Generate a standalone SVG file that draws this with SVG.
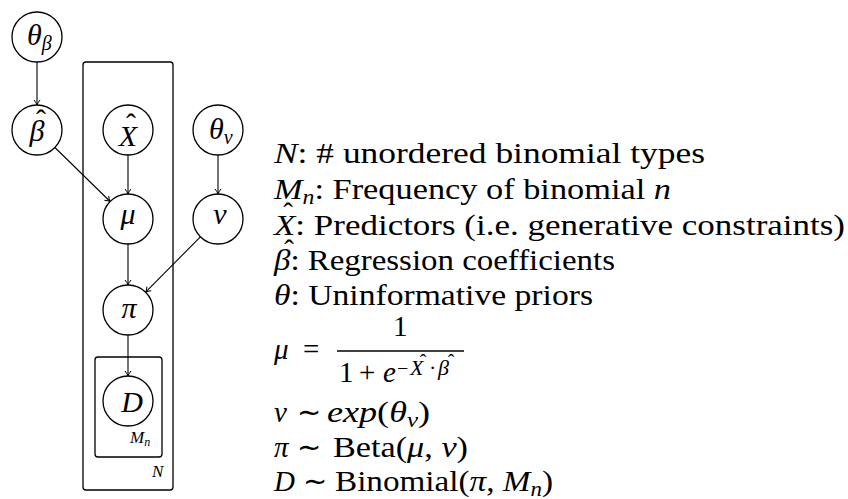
<svg xmlns="http://www.w3.org/2000/svg" width="848" height="499" viewBox="0 0 848 499">
<style>
.c{fill:#fff;stroke:#000;stroke-width:1.3}
.plate{fill:none;stroke:#000;stroke-width:1.3}
.e{stroke:#000;stroke-width:1.1;fill:none;marker-end:url(#arr)}
</style>
<defs>
<marker id="arr" viewBox="-6 -4 7 8" refX="0" refY="0" markerWidth="7" markerHeight="8" markerUnits="userSpaceOnUse" orient="auto">
<path d="M-5,-3 Q-2,-0.6 0,0 Q-2,0.6 -5,3" fill="none" stroke="#000" stroke-width="1"/>
</marker>
</defs>
<rect width="848" height="499" fill="#fff"/>
<g id="plates" font-family="'Liberation Serif', serif">
<rect id="plate-N" class="plate" x="83" y="62" width="90" height="428" rx="3"/>
<text x="152" y="477" font-family="'Liberation Serif', serif" font-size="17" font-style="italic">N</text>
<rect id="plate-Mn" class="plate" x="95" y="357" width="67" height="100" rx="3"/>
<text x="130" y="443" font-family="'Liberation Serif', serif" font-size="17" font-style="italic">M<tspan font-size="12" dy="3">n</tspan></text>
</g>
<g id="connectors">
<line class="e" x1="37" y1="62" x2="37" y2="105"/>
<line class="e" x1="54.9" y1="147.5" x2="110.1" y2="201.5"/>
<line class="e" x1="128" y1="155" x2="128" y2="194"/>
<line class="e" x1="218" y1="155" x2="218" y2="194"/>
<line class="e" x1="200.4" y1="236.8" x2="145.6" y2="292.2"/>
<line class="e" x1="128" y1="244" x2="128" y2="285"/>
<line class="e" x1="128" y1="335" x2="128" y2="376"/>
</g>
<g id="theta_beta">
<circle class="c" cx="37" cy="37" r="25"/>
<text x="27" y="45" font-family="'Liberation Serif', serif" font-size="30" font-style="italic">θ<tspan font-size="20" dy="5">β</tspan></text>
</g>
<g id="beta_hat">
<circle class="c" cx="37" cy="130" r="25"/>
<text x="37" y="141" text-anchor="middle" font-family="'Liberation Serif', serif" font-size="30" font-style="italic">β</text>
<text x="41" y="130" text-anchor="middle" font-family="'Liberation Serif', serif" font-size="30">ˆ</text>
</g>
<g id="X_hat">
<circle class="c" cx="128" cy="130" r="25"/>
<text x="128" y="146" text-anchor="middle" font-family="'Liberation Serif', serif" font-size="30" font-style="italic">X</text>
<text x="131" y="134" text-anchor="middle" font-family="'Liberation Serif', serif" font-size="30">ˆ</text>
</g>
<g id="theta_nu">
<circle class="c" cx="218" cy="130" r="25"/>
<text x="209" y="139" font-family="'Liberation Serif', serif" font-size="30" font-style="italic">θ<tspan font-size="20" dy="5">ν</tspan></text>
</g>
<g id="mu">
<circle class="c" cx="128" cy="219" r="25"/>
<text x="128" y="224" text-anchor="middle" font-family="'Liberation Serif', serif" font-size="30" font-style="italic">μ</text>
</g>
<g id="nu">
<circle class="c" cx="218" cy="219" r="25"/>
<text x="220" y="224" text-anchor="middle" font-family="'Liberation Serif', serif" font-size="30" font-style="italic">ν</text>
</g>
<g id="pi">
<circle class="c" cx="128" cy="310" r="25"/>
<text x="129" y="318" text-anchor="middle" font-family="'Liberation Serif', serif" font-size="30" font-style="italic">π</text>
</g>
<g id="D">
<circle class="c" cx="128" cy="401" r="25"/>
<text x="132" y="412" text-anchor="middle" font-family="'Liberation Serif', serif" font-size="30" font-style="italic">D</text>
</g>
<g id="legend" font-family="'Liberation Serif', serif">
<text x="274" y="163" textLength="431" lengthAdjust="spacingAndGlyphs" font-family="'Liberation Serif', serif" font-size="29"><tspan font-style="italic">N</tspan>: # unordered binomial types</text>
<text x="274" y="199" textLength="397" lengthAdjust="spacingAndGlyphs" font-family="'Liberation Serif', serif" font-size="29"><tspan font-style="italic">M</tspan><tspan font-style="italic" font-size="20" dy="5">n</tspan><tspan dy="-5">: Frequency of binomial </tspan><tspan font-style="italic">n</tspan></text>
<text x="274" y="235" textLength="571" lengthAdjust="spacingAndGlyphs" font-family="'Liberation Serif', serif" font-size="29"><tspan font-style="italic">X</tspan>: Predictors (i.e. generative constraints)</text>
<text x="288" y="223" text-anchor="middle" font-family="'Liberation Serif', serif" font-size="29">ˆ</text>
<text x="274" y="270" textLength="341" lengthAdjust="spacingAndGlyphs" font-family="'Liberation Serif', serif" font-size="29"><tspan font-style="italic">β</tspan>: Regression coefficients</text>
<text x="289" y="260" text-anchor="middle" font-family="'Liberation Serif', serif" font-size="29">ˆ</text>
<text x="274" y="305" textLength="319" lengthAdjust="spacingAndGlyphs" font-family="'Liberation Serif', serif" font-size="29"><tspan font-style="italic">θ</tspan>: Uninformative priors</text>
<text x="274" y="359" font-family="'Liberation Serif', serif" font-size="29" font-style="italic">μ</text>
<text x="303" y="359" font-family="'Liberation Serif', serif" font-size="29">=</text>
<line x1="337" y1="351" x2="464" y2="351" stroke="#000" stroke-width="1.3"/>
<text x="393" y="336" font-family="'Liberation Serif', serif" font-size="29">1</text>
<text x="339" y="382" font-family="'Liberation Serif', serif" font-size="29">1</text>
<text x="359" y="382" font-family="'Liberation Serif', serif" font-size="29">+</text>
<text x="383" y="382" font-family="'Liberation Serif', serif" font-size="29" font-style="italic">e</text>
<text x="397" y="375" font-family="'Liberation Serif', serif" font-size="20">−</text>
<text x="410" y="375" font-family="'Liberation Serif', serif" font-size="22" font-style="italic">X</text>
<text x="429" y="375" font-family="'Liberation Serif', serif" font-size="22">·</text>
<text x="438" y="375" font-family="'Liberation Serif', serif" font-size="22" font-style="italic">β</text>
<text x="423" y="369" text-anchor="middle" font-family="'Liberation Serif', serif" font-size="20">ˆ</text>
<text x="451" y="369" text-anchor="middle" font-family="'Liberation Serif', serif" font-size="20">ˆ</text>
<text x="274" y="422" font-family="'Liberation Serif', serif" font-size="29" font-style="italic">ν</text>
<text x="297" y="422" font-family="'Liberation Serif', serif" font-size="29">∼</text>
<text x="327" y="422" textLength="103" lengthAdjust="spacingAndGlyphs" font-family="'Liberation Serif', serif" font-size="29"><tspan font-style="italic">exp</tspan>(<tspan font-style="italic">θ</tspan><tspan font-style="italic" font-size="20" dy="5">ν</tspan><tspan dy="-5">)</tspan></text>
<text x="274" y="457" font-family="'Liberation Serif', serif" font-size="29" font-style="italic">π</text>
<text x="297" y="457" font-family="'Liberation Serif', serif" font-size="29">∼</text>
<text x="333" y="457" textLength="135" lengthAdjust="spacingAndGlyphs" font-family="'Liberation Serif', serif" font-size="29">Beta(<tspan font-style="italic">μ</tspan>, <tspan font-style="italic">ν</tspan>)</text>
<text x="274" y="491" font-family="'Liberation Serif', serif" font-size="29" font-style="italic">D</text>
<text x="303" y="491" font-family="'Liberation Serif', serif" font-size="29">∼</text>
<text x="335" y="491" textLength="218" lengthAdjust="spacingAndGlyphs" font-family="'Liberation Serif', serif" font-size="29">Binomial(<tspan font-style="italic">π</tspan>, <tspan font-style="italic">M</tspan><tspan font-style="italic" font-size="20" dy="5">n</tspan><tspan dy="-5">)</tspan></text>
</g>
</svg>
